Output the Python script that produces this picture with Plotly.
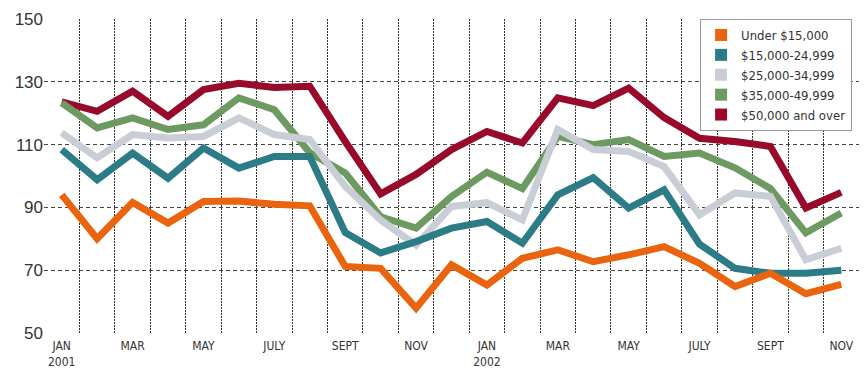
import plotly.graph_objects as go

months = ["JAN", "FEB", "MAR", "APR", "MAY", "JUNE", "JULY", "AUG", "SEPT", "OCT", "NOV", "DEC",
          "JAN", "FEB", "MAR", "APR", "MAY", "JUNE", "JULY", "AUG", "SEPT", "OCT", "NOV"]
tick_idx = [0, 2, 4, 6, 8, 10, 12, 14, 16, 18, 20, 22]
tick_text = ["JAN<br>2001", "MAR", "MAY", "JULY", "SEPT", "NOV", "JAN<br>2002", "MAR", "MAY", "JULY", "SEPT", "NOV"]

under_15k = [94, 80, 91.6, 85, 91.9, 92, 91, 90.5, 71.2, 70.6, 57.9, 71.7, 65.3, 73.8, 76.5, 72.7, 74.9, 77.5, 72.2, 64.8, 69, 62.5, 65.5]
k15_25 = [108.4, 98.8, 107.3, 99.3, 108.9, 102.5, 106.2, 106.2, 82, 75.5, 79.1, 83.4, 85.5, 78.6, 94, 99.5, 89.8, 95.6, 78.3, 70.6, 69, 69, 70]
k25_35 = [113.7, 105.8, 113.2, 112.1, 112.6, 118.5, 113.2, 111.6, 96.7, 86, 78, 90.3, 91.5, 86, 114.8, 108.4, 107.8, 103, 87.6, 94.6, 93.5, 73.3, 77]
k35_50 = [123.3, 115.3, 118.5, 114.8, 116.3, 124.9, 121.1, 107.4, 101, 87, 83.4, 93.5, 101.2, 96, 112.6, 110, 111.6, 106.2, 107.3, 102.6, 96, 81.9, 88.2]
k50_up = [123.6, 120.6, 127, 119, 127.5, 129.5, 128.2, 128.6, 111, 94.3, 100.5, 108.4, 114.2, 110.5, 124.9, 122.4, 128, 118.6, 112, 111, 109.4, 89.8, 94.8]

names = ["Under $15,000", "$15,000-24,999", "$25,000-34,999", "$35,000-49,999", "$50,000 and over"]
colors = ["#EA6410", "#2C7C88", "#C9CDD6", "#6D9A60", "#980A2B"]
series = [under_15k, k15_25, k25_35, k35_50, k50_up]

x = list(range(len(months)))
fig = go.Figure()

for name, col, ys in reversed(list(zip(names, colors, series))):
    fig.add_trace(go.Scatter(x=x, y=ys, mode="lines", name=name, showlegend=False,
                             line=dict(color=col, width=7), hoverinfo="skip"))

for name, col in zip(names, colors):
    fig.add_trace(go.Scatter(x=[None], y=[None], mode="markers", name=name,
                             marker=dict(symbol="square", size=13, color=col)))

cond = "DejaVu Sans Condensed, Liberation Sans Narrow, Arial Narrow, sans-serif"
plain = "Liberation Sans, Arial, sans-serif"

fig.update_layout(
    width=865, height=371,
    margin=dict(l=44, r=6, t=19, b=38),
    paper_bgcolor="white", plot_bgcolor="white",
    showlegend=True,
    legend=dict(x=0.805, y=1.0, xanchor="left", yanchor="top",
                bgcolor="white", bordercolor="#999999", borderwidth=1,
                font=dict(family=cond, size=13, color="#333333"),
                tracegroupgap=0, itemsizing="constant"),
    xaxis=dict(range=[-0.5, 22.5], tickmode="array", tickvals=tick_idx, ticktext=tick_text,
               showgrid=False, zeroline=False, ticks="", showline=False, automargin=False,
               ticklabelstandoff=4,
               tickfont=dict(family=cond, size=12, color="#333333"),
               minor=dict(tickmode="array", tickvals=[i + 0.5 for i in range(-1, len(months))],
                          showgrid=True, gridcolor="#333333", griddash="2px,1px", gridwidth=1)),
    yaxis=dict(range=[50, 150], tickmode="linear", tick0=50, dtick=20,
               showgrid=True, gridcolor="#444444", griddash="4px,3px", gridwidth=1,
               zeroline=False, ticks="", showline=False, automargin=False,
               tickfont=dict(family=plain, size=17, color="#333333")),
)

fig.write_html("out.html")
